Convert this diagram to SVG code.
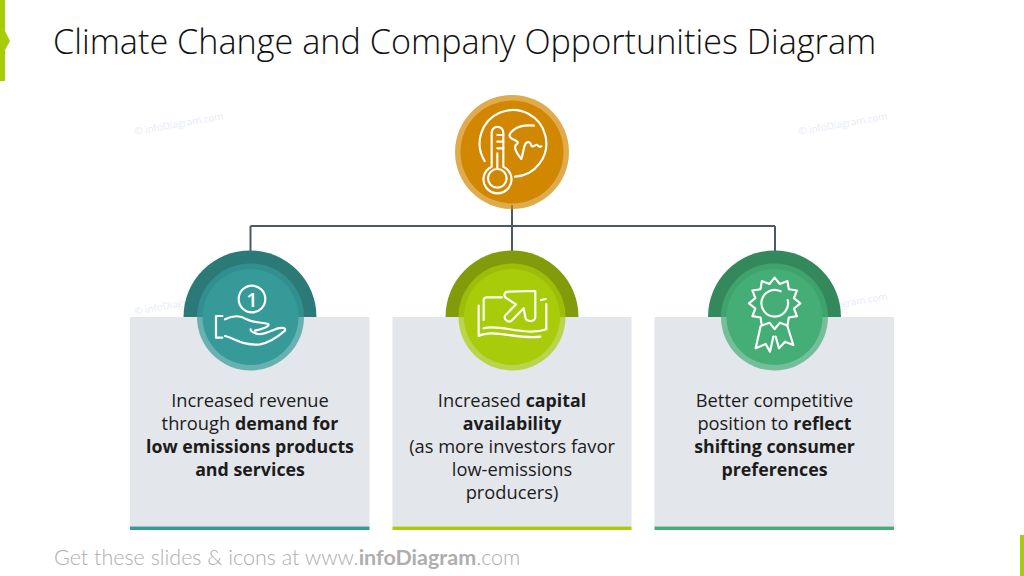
<svg xmlns="http://www.w3.org/2000/svg" width="1024" height="576" viewBox="0 0 1024 576">
<style>
.title{font-family:"Open Sans","Liberation Sans",sans-serif;font-weight:300;font-size:34.2px;fill:#111}
.body{font-family:"Open Sans","Liberation Sans",sans-serif;font-size:18.3px;fill:#1c1c1c;text-anchor:middle}
.body tspan.b{font-weight:700;font-size:17.8px}
.wm{font-family:"Open Sans","Liberation Sans",sans-serif;font-size:9.9px;fill:#e6ebf5}
.foot{font-family:"Lato","Liberation Sans",sans-serif;font-size:21.5px;fill:#aeaeae;font-weight:300}
.card{fill:#e3e6eb}
.ring{opacity:.7}
.ico{fill:none;stroke:#fff;stroke-width:6.5;stroke-linecap:round;stroke-linejoin:round}
.conn{fill:none;stroke:#4d5a66;stroke-width:2}
</style>
<rect width="1024" height="576" fill="#fff"/>
<g id="accents" fill="#a9cc0a">
<path d="M0,0H5V31L10,41L5,50V81H0Z"/>
<rect x="1020" y="535" width="4" height="41"/>
</g>
<g id="watermarks" class="wm">
<text transform="translate(135,135) rotate(-10)">© infoDiagram.com</text>
<text transform="translate(799,135) rotate(-10)">© infoDiagram.com</text>
<text transform="translate(135,315) rotate(-10)">© infoDiagram.com</text>
<text transform="translate(799,315) rotate(-10)">© infoDiagram.com</text>
</g>
<text id="title" class="title" x="53" y="54">Climate Change and Company Opportunities Diagram</text>
<g id="connectors" class="conn">
<path d="M512,205V226M250.500,226H775M250.500,226V252M512,226V252M775,226V252"/>
</g>
<g id="node-top">
<circle class="ring" cx="512" cy="152" r="57" fill="#d18700"/>
<circle cx="512" cy="152" r="51.500" fill="#d18700"/>
<g class="ico" transform="translate(440,85) scale(.3333)">
<path d="M134,228A100,100 0 1 1 225,275"/>
<path d="M155,245V143A17.500,17.500 0 0 1 190,143V245A42,42 0 1 1 155,245Z"/>
<circle cx="172" cy="280" r="28"/>
<path d="M172,205V252M172,150H190M172,170H190M172,190H190"/>
<path d="M282,122C260,120 238,122 222,134C212,142 204,150 212,158C220,166 238,168 232,176C220,182 224,198 244,222C250,205 250,185 258,174C266,168 272,172 274,182C280,190 286,176 292,180C296,186 300,186 304,184"/>
</g>
</g>
<g id="node-revenue">
<path d="M183.500,317A66.500,66.500 0 0 1 316.500,317Z" fill="#2b7a78"/>
<rect class="card" x="130" y="317" width="239.500" height="209.500"/>
<rect x="130" y="526.500" width="239.500" height="3.500" fill="#359a98"/>
<circle class="ring" cx="250.500" cy="317" r="53.500" fill="#359a98"/>
<circle cx="250.500" cy="317" r="48" fill="#359a98"/>
<g class="ico" transform="translate(130,240) scale(.3333)">
<circle cx="366" cy="177" r="40"/>
<path d="M277,228H258V293H277"/>
<path d="M285,238C305,228 330,225 350,238C372,250 395,245 415,252C420,260 395,268 375,272"/>
<path d="M285,288C315,295 340,318 390,313C420,308 450,285 465,272C468,262 455,262 440,266C425,272 400,285 385,282C370,280 360,272 362,268"/>
</g>
<text x="252" y="299" font-family="Open Sans, Liberation Sans, sans-serif" font-size="20" font-weight="600" fill="#fff" text-anchor="middle" dominant-baseline="central">1</text>
<text class="body"><tspan x="250" y="407">Increased revenue</tspan><tspan x="250" y="430">through <tspan class="b">demand for</tspan></tspan><tspan x="250" y="453" class="b">low emissions products</tspan><tspan x="250" y="476" class="b">and services</tspan></text>
</g>
<g id="node-capital">
<path d="M445.500,317A66.500,66.500 0 0 1 578.500,317Z" fill="#829b0a"/>
<rect class="card" x="392.500" y="317" width="239" height="209.500"/>
<rect x="392.500" y="526.500" width="239" height="3.500" fill="#a9cc0a"/>
<circle class="ring" cx="512" cy="317" r="53.500" fill="#a9cc0a"/>
<circle cx="512" cy="317" r="48" fill="#a9cc0a"/>
<g class="ico" transform="translate(392,240) scale(.3333)">
<path d="M348,155L430,153V232Q428,243 416,243Q402,243 400,232L395,205L358,243Q348,248 340,238Q335,230 342,224L372,193L345,176Q335,170 338,162Q340,155 348,155Z"/>
<path d="M330,172H285Q275,172 275,180V240"/>
<path d="M260,197V288C300,265 380,300 445,290"/>
<path d="M275,265C320,250 400,290 463,268V192"/>
<path d="M447,180L461,177"/>
</g>
<text class="body"><tspan x="512" y="407">Increased <tspan class="b">capital</tspan></tspan><tspan x="512" y="430" class="b">availability</tspan><tspan x="512" y="453">(as more investors favor</tspan><tspan x="512" y="476">low-emissions</tspan><tspan x="512" y="499">producers)</tspan></text>
</g>
<g id="node-position">
<path d="M708,317A66.500,66.500 0 0 1 841,317Z" fill="#33895c"/>
<rect class="card" x="654.500" y="317" width="239.500" height="209.500"/>
<rect x="654.500" y="526.500" width="239.500" height="3.500" fill="#44ae76"/>
<circle class="ring" cx="774.500" cy="317" r="53.500" fill="#44ae76"/>
<circle cx="774.500" cy="317" r="48" fill="#44ae76"/>
<g class="ico" transform="translate(654,240) scale(.3333)">
<path d="M362,113L377.500,132L400.500,123.300L404.400,147.600L428.700,151.500L420,174.500L439,190L420,205.500L428.700,228.500L404.400,232.400L400.500,256.700L377.500,248L362,267L346.500,248L323.500,256.700L319.600,232.400L295.300,228.500L304,205.500L285,190L304,174.500L295.300,151.500L319.600,147.600L323.500,123.300L346.500,132Z"/>
<path d="M380,154A40,40 0 1 0 401,180"/>
<path d="M320,258L305,325L335,312L348,335L358,290M365,290L375,325L393,305L418,315L400,258"/>
</g>
<text class="body"><tspan x="774.500" y="407">Better competitive</tspan><tspan x="774.500" y="430">position to <tspan class="b">reflect</tspan></tspan><tspan x="774.500" y="453" class="b">shifting consumer</tspan><tspan x="774.500" y="476" class="b">preferences</tspan></text>
</g>
<text id="footer" class="foot" x="54" y="565">Get these slides &amp; icons at www.<tspan font-weight="700">infoDiagram</tspan>.com</text>
</svg>
